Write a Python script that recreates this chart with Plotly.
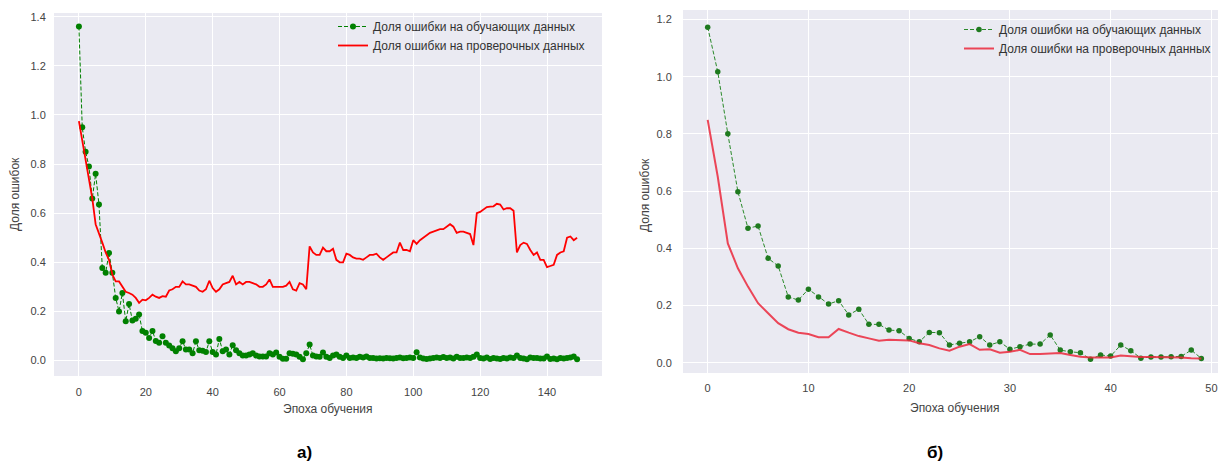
import plotly.graph_objects as go

# ---------------- data: panel a) (150 epochs) ----------------
epochs_a = list(range(150))
train_a = [
    1.36, 0.95, 0.85, 0.79, 0.66, 0.76, 0.635, 0.377, 0.357, 0.438,
    0.357, 0.255, 0.20, 0.275, 0.16, 0.23, 0.163, 0.17, 0.187, 0.12,
    0.113, 0.092, 0.12, 0.08, 0.072, 0.099, 0.072, 0.061, 0.05, 0.038,
    0.05, 0.078, 0.045, 0.045, 0.03, 0.078, 0.042, 0.04, 0.035, 0.078,
    0.035, 0.025, 0.088, 0.038, 0.045, 0.025, 0.062, 0.042, 0.03, 0.02,
    0.02, 0.025, 0.03, 0.02, 0.016, 0.016, 0.016, 0.03, 0.025, 0.033,
    0.015, 0.007, 0.007, 0.03, 0.028, 0.025, 0.015, 0.005, 0.03, 0.065,
    0.02, 0.016, 0.015, 0.033, 0.015, 0.01, 0.02, 0.025, 0.015, 0.01,
    0.02, 0.01, 0.012, 0.01, 0.015, 0.012, 0.016, 0.01, 0.01, 0.008,
    0.009, 0.008, 0.01, 0.009, 0.008, 0.01, 0.012, 0.009, 0.01, 0.012,
    0.01, 0.034, 0.012, 0.008, 0.006, 0.008, 0.01, 0.012, 0.01, 0.014,
    0.01, 0.012, 0.008, 0.015, 0.01, 0.01, 0.012, 0.01, 0.015, 0.025,
    0.01, 0.008, 0.012, 0.006, 0.01, 0.008, 0.006, 0.01, 0.008, 0.012,
    0.01, 0.02, 0.01, 0.008, 0.005, 0.012, 0.01, 0.01, 0.008, 0.008,
    0.016, 0.006, 0.008, 0.005, 0.01, 0.008, 0.01, 0.012, 0.016, 0.005,
]
val_a = [
    0.975, 0.90, 0.82, 0.74, 0.66, 0.555, 0.52, 0.48, 0.44, 0.41,
    0.35, 0.322, 0.322, 0.30, 0.28, 0.275, 0.268, 0.255, 0.235, 0.248,
    0.245, 0.255, 0.268, 0.26, 0.255, 0.262, 0.26, 0.285, 0.29, 0.30,
    0.30, 0.322, 0.31, 0.31, 0.305, 0.30, 0.285, 0.28, 0.29, 0.325,
    0.295, 0.28, 0.29, 0.31, 0.315, 0.32, 0.345, 0.31, 0.32, 0.31,
    0.32, 0.32, 0.315, 0.31, 0.30, 0.30, 0.31, 0.33, 0.30, 0.30,
    0.30, 0.30, 0.305, 0.32, 0.29, 0.285, 0.315, 0.31, 0.29, 0.465,
    0.44, 0.43, 0.43, 0.46, 0.445, 0.445, 0.455, 0.41, 0.40, 0.40,
    0.435, 0.43, 0.42, 0.415, 0.415, 0.41, 0.42, 0.43, 0.43, 0.435,
    0.42, 0.41, 0.42, 0.43, 0.44, 0.44, 0.48, 0.45, 0.45, 0.445,
    0.49, 0.475, 0.49, 0.50, 0.51, 0.52, 0.525, 0.53, 0.535, 0.535,
    0.545, 0.555, 0.545, 0.52, 0.525, 0.525, 0.52, 0.515, 0.47, 0.60,
    0.605, 0.615, 0.625, 0.627, 0.628, 0.638, 0.635, 0.615, 0.62, 0.62,
    0.61, 0.44, 0.47, 0.48, 0.475, 0.45, 0.43, 0.44, 0.41, 0.41,
    0.38, 0.385, 0.39, 0.43, 0.44, 0.445, 0.50, 0.505, 0.49, 0.50,
]

# ---------------- data: panel б) (50 epochs) ----------------
epochs_b = list(range(50))
train_b = [
    1.173, 1.017, 0.80, 0.598, 0.47, 0.478, 0.365, 0.338, 0.23, 0.219,
    0.257, 0.23, 0.205, 0.217, 0.167, 0.187, 0.134, 0.134, 0.114, 0.112,
    0.085, 0.073, 0.106, 0.105, 0.062, 0.068, 0.073, 0.091, 0.062, 0.073,
    0.047, 0.056, 0.065, 0.065, 0.097, 0.044, 0.038, 0.035, 0.012, 0.027,
    0.023, 0.062, 0.042, 0.016, 0.02, 0.02, 0.021, 0.022, 0.044, 0.015,
]
val_b = [
    0.849, 0.65, 0.417, 0.33, 0.266, 0.208, 0.173, 0.138, 0.117, 0.105,
    0.10, 0.089, 0.089, 0.118, 0.105, 0.093, 0.085, 0.077, 0.08, 0.08,
    0.078, 0.068, 0.062, 0.05, 0.042, 0.056, 0.065, 0.045, 0.047, 0.035,
    0.038, 0.045, 0.03, 0.03, 0.032, 0.034, 0.027, 0.021, 0.018, 0.018,
    0.018, 0.025, 0.022, 0.02, 0.02, 0.02, 0.02, 0.018, 0.016, 0.015,
]

label_train = "Доля ошибки на обучающих данных"
label_val = "Доля ошибки на проверочных данных"
x_title = "Эпоха обучения"
y_title = "Доля ошибок"
y_ticks = [0.0, 0.2, 0.4, 0.6, 0.8, 1.0, 1.2, 1.4]
x_ticks_a = [0, 20, 40, 60, 80, 100, 120, 140]
x_ticks_b = [0, 10, 20, 30, 40, 50]

FONT = "Liberation Sans, Arial, sans-serif"
BODY = 8                      # default page margin around the figure
W, H = 1226 - BODY, 464 - BODY
# plot area union in screen pixels
SL, SR, ST, SB = 54, 1226, 10, 376
ML, MT = SL - BODY, ST - BODY
MR = W - (SR - BODY)
MB = H - (SB - BODY)
PW = SR - SL
PH = SB - ST

def px_x(p):
    return (p - SL) / PW

def px_y(p):
    return 1 - (p - ST) / PH

fig = go.Figure()

fig.add_trace(go.Scatter(
    x=epochs_a, y=train_a, name=label_train, mode="lines+markers",
    line=dict(color="green", width=1, dash="4px,2px"),
    marker=dict(color="green", size=6), xaxis="x", yaxis="y", legend="legend"))
fig.add_trace(go.Scatter(
    x=epochs_a, y=val_a, name=label_val, mode="lines",
    line=dict(color="#ff0000", width=1.8), xaxis="x", yaxis="y", legend="legend"))

fig.add_trace(go.Scatter(
    x=epochs_b, y=train_b, name=label_train, mode="lines+markers",
    line=dict(color="#2a8a2a", width=1, dash="4px,2px"),
    marker=dict(color="#1f7a1f", size=5.5), xaxis="x2", yaxis="y2", legend="legend2"))
fig.add_trace(go.Scatter(
    x=epochs_b, y=val_b, name=label_val, mode="lines",
    line=dict(color="rgba(235,40,60,0.85)", width=2), xaxis="x2", yaxis="y2", legend="legend2"))

axis_common = dict(
    showgrid=True, gridcolor="white", gridwidth=1, zeroline=False,
    showline=False, ticks="outside", tickcolor="rgba(0,0,0,0)",
    tickfont=dict(family=FONT, size=11, color="#444"), automargin=False,
)

fig.update_layout(
    width=W, height=H,
    margin=dict(l=ML, r=MR, t=MT, b=MB, autoexpand=False),
    paper_bgcolor="white", plot_bgcolor="#EAEAF2",
    font=dict(family=FONT, color="#333"),
    xaxis=dict(domain=[0, px_x(602)], range=[-7.45, 156.45], tickvals=x_ticks_a,
               anchor="y", ticklen=6, **axis_common),
    yaxis=dict(domain=[px_y(376), px_y(13)], range=[-0.063, 1.415], tickvals=y_ticks,
               tickformat=".1f", anchor="x", ticklen=5, **axis_common),
    xaxis2=dict(domain=[px_x(683), 1], range=[-2.45, 51.45], tickvals=x_ticks_b,
                anchor="y2", ticklen=5, **axis_common),
    yaxis2=dict(domain=[px_y(373), px_y(10)], range=[-0.036, 1.233], tickvals=y_ticks[:-1],
                tickformat=".1f", anchor="x2", ticklen=8, **axis_common),
    legend=dict(x=px_x(333), y=px_y(12), xanchor="left", yanchor="top",
                bgcolor="rgba(0,0,0,0)", font=dict(family=FONT, size=12, color="#333"),
                tracegroupgap=0, itemwidth=30),
    legend2=dict(x=px_x(959), y=px_y(15), xanchor="left", yanchor="top",
                 bgcolor="rgba(0,0,0,0)", font=dict(family=FONT, size=12, color="#333"),
                 tracegroupgap=0, itemwidth=30),
    showlegend=True,
)

def ann(text, x, y, size=12, angle=0, color="#444"):
    return dict(text=text, x=px_x(x), y=px_y(y), xref="paper", yref="paper",
                xanchor="center", yanchor="middle", showarrow=False, textangle=angle,
                font=dict(family=FONT, size=size, color=color))

fig.update_layout(annotations=[
    ann(x_title, 328, 409),
    ann(x_title, 955, 408),
    ann(y_title, 15, 194, angle=-90),
    ann(y_title, 645, 195, angle=-90),
    ann("<b>а)</b>", 304, 452, size=17, color="black"),
    ann("<b>б)</b>", 935, 452, size=17, color="black"),
])

fig.write_html("out.html")
